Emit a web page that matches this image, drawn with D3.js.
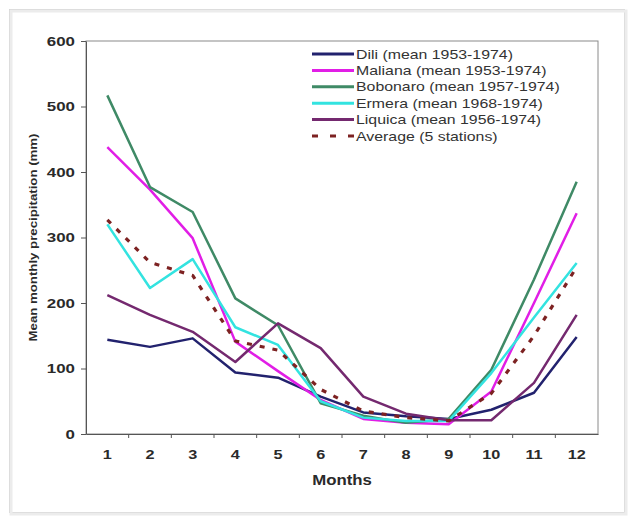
<!DOCTYPE html>
<html>
<head>
<meta charset="utf-8">
<script src="https://cdn.jsdelivr.net/npm/d3@7"></script>
<style>
  body { margin: 0; background: #fff; }
  svg { display: block; font-family: Arial, "Liberation Sans", sans-serif; }
  .stretch { transform-box: fill-box; }
</style>
</head>
<body>
<script>
// monthly precipitation (mm)
const months = ["1", "2", "3", "4", "5", "6", "7", "8", "9", "10", "11", "12"];
const dili     = [144, 133, 146, 94, 86, 57, 33, 27, 23, 37, 63, 148];
const maliana  = [438, 373, 299, 141, 96, 52, 23, 17, 15, 65, 200, 337];
const bobonaro = [517, 377, 339, 207, 166, 47, 28, 17, 23, 98, 236, 385];
const ermera   = [320, 223, 267, 163, 136, 50, 25, 20, 20, 93, 178, 261];
const liquica  = [212, 182, 156, 110, 169, 131, 57, 31, 21, 21, 78, 182];
const average  = [327, 262, 242, 142, 128, 68, 35, 25, 20, 62, 150, 255];
const seriesLabels = [
  "Dili (mean 1953-1974)",
  "Maliana (mean 1953-1974)",
  "Bobonaro (mean 1957-1974)",
  "Ermera (mean 1968-1974)",
  "Liquica (mean 1956-1974)",
  "Average (5 stations)"
];
const yTicks = [0, 100, 200, 300, 400, 500, 600];

const colors = ["#22226e", "#e11ee6", "#3f8a66", "#33e3e0", "#74296f", "#7d2222"];

let margin = null, width = null, height = null;
let root = null, svg = null;
let x = null, y = null;

setupCanvasSize();
appendSvg("body");
drawFrame();
setupScales();
appendAxes();
appendLines();
appendLegend();

function setupCanvasSize() {
  margin = {top: 41, left: 86, bottom: 90, right: 35};
  width = 633 - margin.left - margin.right;
  height = 524 - margin.top - margin.bottom;
}

function appendSvg(domElement) {
  root = d3.select(domElement).append("svg")
    .attr("width", 633)
    .attr("height", 524);
  svg = root.append("g")
    .attr("transform", `translate(${margin.left}, ${margin.top})`);
}

function drawFrame() {
  // soft picture frame around the whole figure
  root.insert("rect", ":first-child")
    .attr("x", 11).attr("y", 11).attr("width", 615).attr("height", 503)
    .attr("fill", "none").attr("stroke", "#ececec").attr("stroke-width", 3);
  root.insert("rect", ":first-child")
    .attr("x", 9.5).attr("y", 9.5).attr("width", 615).attr("height", 503)
    .attr("fill", "#fff").attr("stroke", "#cfcfcf");
}

function setupScales() {
  x = d3.scaleBand().domain(months).range([0, width]).padding(0);
  y = d3.scaleLinear().domain([0, 600]).range([height, 0]);
}

function appendAxes() {
  // plot box
  svg.append("rect")
    .attr("width", width).attr("height", height)
    .attr("fill", "none").attr("stroke", "#8a8a8a");

  const yAxis = svg.append("g")
    .call(d3.axisLeft(y).tickValues(yTicks).tickSize(5).tickPadding(6).tickSizeOuter(0));
  yAxis.select(".domain").attr("stroke", "#555");
  yAxis.selectAll(".tick line").attr("stroke", "#555");
  yAxis.selectAll("text")
    .attr("font-size", 13).attr("font-weight", "bold").attr("fill", "#2a2a2a")
    .attr("class", "stretch")
    .style("transform-origin", "right center")
    .style("transform", "scaleX(1.3)");

  const xAxis = svg.append("g")
    .attr("transform", `translate(0,${height})`)
    .call(d3.axisBottom(x).tickSize(0).tickPadding(16).tickSizeOuter(0));
  xAxis.select(".domain").attr("stroke", "#555");
  xAxis.selectAll("text")
    .attr("font-size", 13).attr("font-weight", "bold").attr("fill", "#2a2a2a")
    .attr("class", "stretch")
    .style("transform-origin", "center")
    .style("transform", "scaleX(1.25)");

  // category boundary ticks
  xAxis.selectAll(".bound")
    .data(months.slice(1))
    .enter().append("line")
    .attr("class", "bound")
    .attr("x1", d => x(d)).attr("x2", d => x(d))
    .attr("y1", 0).attr("y2", 4)
    .attr("stroke", "#555");

  svg.append("text")
    .attr("class", "stretch")
    .attr("x", width / 2).attr("y", height + 51)
    .attr("text-anchor", "middle")
    .attr("font-size", 14).attr("font-weight", "bold").attr("fill", "#2a2a2a")
    .style("transform-origin", "center")
    .style("transform", "scaleX(1.2)")
    .text("Months");

  root.append("text")
    .attr("transform", `translate(37, ${margin.top + height / 2}) rotate(-90)`)
    .attr("text-anchor", "middle")
    .attr("font-size", 11).attr("font-weight", "bold").attr("fill", "#2a2a2a")
    .attr("textLength", 208).attr("lengthAdjust", "spacingAndGlyphs")
    .text("Mean monthly precipitation (mm)");
}

function appendLines() {
  const allSeries = [dili, maliana, bobonaro, ermera, liquica, average];
  const line = d3.line()
    .x((d, i) => x(months[i]) + x.bandwidth() / 2)
    .y(d => y(d));

  svg.selectAll(".series")
    .data(allSeries)
    .enter().append("path")
    .attr("class", "series")
    .attr("d", line)
    .attr("fill", "none")
    .attr("stroke", (d, i) => colors[i])
    .attr("stroke-width", (d, i) => i === 5 ? 3.2 : 2.5)
    .attr("stroke-linejoin", "round")
    .attr("stroke-dasharray", (d, i) => i === 5 ? "5,8" : null);
}

function appendLegend() {
  const legend = root.append("g").attr("transform", "translate(312, 54)");
  const rows = legend.selectAll(".row")
    .data(seriesLabels)
    .enter().append("g")
    .attr("transform", (d, i) => `translate(0, ${i * 16.4})`);

  rows.append("line")
    .attr("x1", 0).attr("x2", 42)
    .attr("stroke", (d, i) => colors[i])
    .attr("stroke-width", (d, i) => i === 5 ? 3.2 : 3)
    .attr("stroke-dasharray", (d, i) => i === 5 ? "6,12" : null);

  rows.append("text")
    .attr("class", "stretch")
    .attr("x", 44).attr("y", 0).attr("dy", "0.35em")
    .attr("font-size", 13).attr("fill", "#333")
    .style("transform-origin", "left center")
    .style("transform", "scaleX(1.22)")
    .text(d => d);
}
</script>
</body>
</html>
